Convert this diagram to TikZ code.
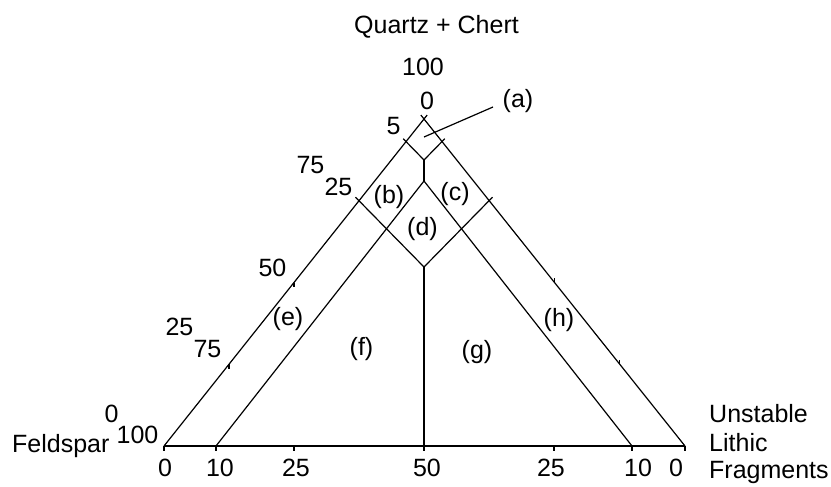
\documentclass[tikz,border=0pt]{standalone}
\usepackage{fontspec}
\setmainfont{Liberation Sans}
\begin{document}
\begin{tikzpicture}[x=1pt,y=-1pt,
  ln/.style={line width=1.2pt,line cap=butt,black},
  lbl/.style={anchor=base,inner sep=0pt,font=\fontsize{25}{30}\selectfont},
  lblw/.style={lbl,anchor=base west}]
\useasboundingbox (0,0) rectangle (831,487);
% vertices and construction points
\coordinate (Q) at (424,119);
\coordinate (F) at (164,446);
\coordinate (L) at (685,446);
\coordinate (Qa) at (427.1,115.1);
\coordinate (Qb) at (420.9,115.1);
\coordinate (J) at (424,160);
\coordinate (T) at (424,181);
\coordinate (B) at (424,267);
\coordinate (M) at (424,446);
\coordinate (Mt) at (424,451);
\coordinate (Y1) at (403.2,138.7);
\coordinate (Y2) at (444.8,138.7);
\coordinate (P1) at (355.5,197.2);
\coordinate (P2) at (492.5,197.2);
\coordinate (I1) at (216,446);
\coordinate (I2) at (632,446);
\coordinate (Pa) at (424,137);
\coordinate (Pb) at (493,107);
% triangle
\draw[ln] (F) -- (Qa);
\draw[ln] (L) -- (Qb);
\draw[ln] (F) -- (L);
% internal lines
\draw[ln] (Y1) -- (J) -- (Y2);
\draw[ln] (J) -- (T);
\draw[ln] (I1) -- (T) -- (I2);
\draw[ln] (P1) -- (B) -- (P2);
\draw[ln] (B) -- (Mt);
\draw[ln] (Pa) -- (Pb);
% ticks
\foreach \x in {164,216,294,554,632,685} \draw[ln] (\x,446) -- (\x,451);
\draw[ln] (294,282.5) -- (294,287);
\draw[ln] (229,364.25) -- (229,368.5);
\draw[ln] (554.5,282.5) -- (554.5,278);
\draw[ln] (619.75,364.25) -- (619.75,360);
% labels
\node[lbl] (tq) at (436.5,34) {Quartz + Chert};
\node[lbl] (t100a) at (423,76) {100};
\node[lbl] (t0a) at (427,110) {0};
\node[lbl] (ta) at (518,108) {(a)};
\node[lbl] (t5) at (393.5,135) {5};
\node[lbl] (t75a) at (310.5,173) {75};
\node[lbl] (t25a) at (338.5,195) {25};
\node[lbl] (tb) at (389,203) {(b)};
\node[lbl] (tc) at (455,200) {(c)};
\node[lbl] (td) at (422.5,235) {(d)};
\node[lbl] (t50a) at (272.5,276) {50};
\node[lbl] (te) at (288,325) {(e)};
\node[lbl] (tf) at (361.5,355) {(f)};
\node[lbl] (tg) at (477,358) {(g)};
\node[lbl] (th) at (559,326) {(h)};
\node[lbl] (t25b) at (179.5,335) {25};
\node[lbl] (t75b) at (207.5,357) {75};
\node[lbl] (t0b) at (111.5,422) {0};
\node[lbl] (t100b) at (137.5,443) {100};
\node[lblw] (tfs) at (12,452.5) {Feldspar};
\node[lbl] (b0a) at (165,476.5) {0};
\node[lbl] (b10a) at (220,476.5) {10};
\node[lbl] (b25a) at (296,476.5) {25};
\node[lbl] (b50) at (427,476.5) {50};
\node[lbl] (b25b) at (551,476.5) {25};
\node[lbl] (b10b) at (638,476.5) {10};
\node[lbl] (b0b) at (676,476.5) {0};
\node[lblw] (tu) at (709,422.5) {Unstable};
\node[lblw] (tl) at (709,451.5) {Lithic};
\node[lblw] (tfr) at (709,478) {Fragments};
\end{tikzpicture}
\end{document}
